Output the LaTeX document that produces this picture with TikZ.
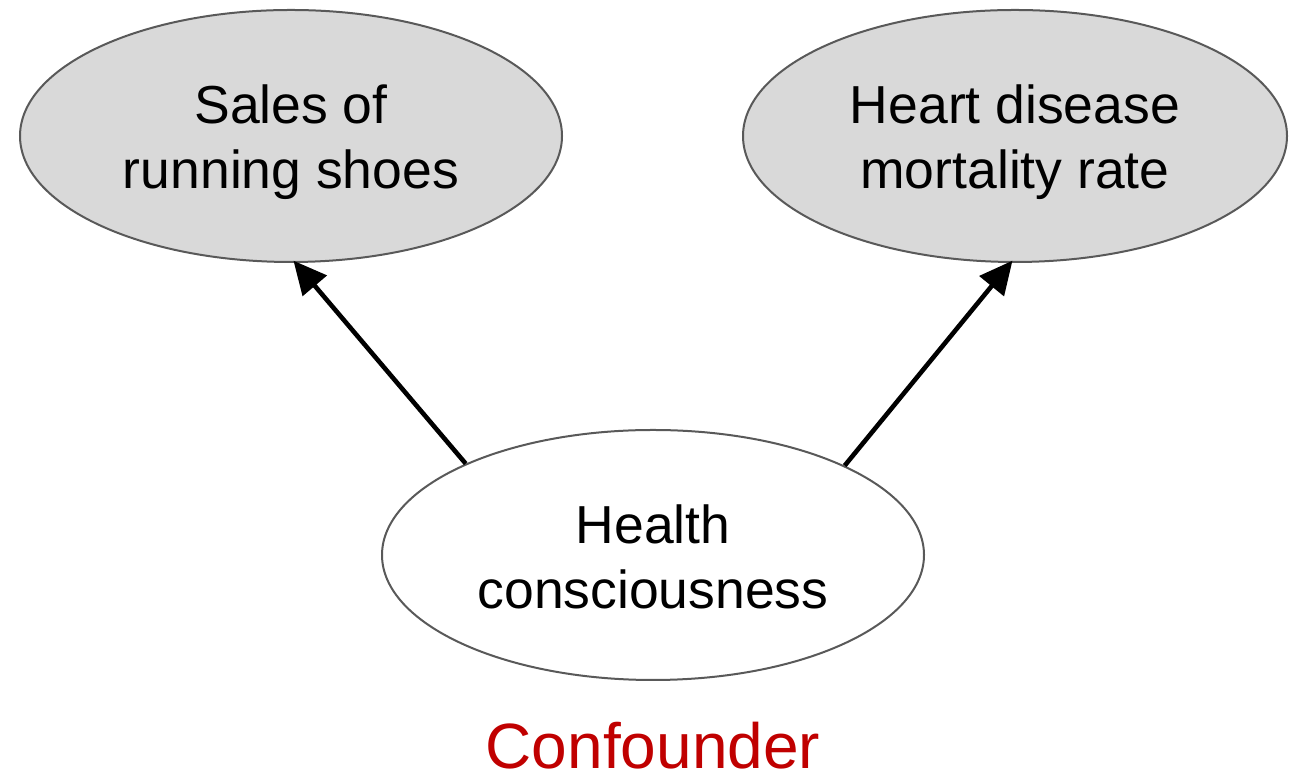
\documentclass[tikz,border=0pt]{standalone}
\usepackage{fontspec}
\setmainfont{Liberation Sans}
\usetikzlibrary{shapes.geometric,arrows.meta}
\definecolor{nodegray}{HTML}{D9D9D9}
\definecolor{edgegray}{HTML}{595959}
\definecolor{confred}{HTML}{C00000}
\begin{document}
\begin{tikzpicture}[x=1pt,y=1pt,
  oval/.style={ellipse, draw=edgegray, line width=2pt, inner sep=0pt,
    align=center, font=\fontsize{53.5}{65}\selectfont},
  arr/.style={line width=4.6pt, shorten >=-3pt,
    -{Triangle[length=33pt,width=31pt]}}]
  \useasboundingbox (0,0) rectangle (1295,775);
  % observed variables
  \node[oval, fill=nodegray, minimum width=542pt, minimum height=252pt]
    (sales) at (291,639) {};
  \node[oval, fill=nodegray, minimum width=544pt, minimum height=252pt]
    (heart) at (1015,639) {};
  \node[oval, draw=none, anchor=center] (salestext) at (291,633)
    {Sales of\\running shoes};
  \node[oval, draw=none, anchor=center] (hearttext) at (1015,633)
    {Heart disease\\mortality rate};
  % common cause
  \node[oval, fill=white, minimum width=542pt, minimum height=250pt]
    (health) at (653,220) {};
  \node[oval, draw=none] (healthtext) at (653,218) {Health\\consciousness};
  \node[font=\fontsize{64}{76}\selectfont, text=confred, anchor=base]
    (conf) at (653,6) {Confounder};
  % causal arrows
  \draw[arr] (health.154.9) -- (sales.272.2);
  \draw[arr] (health.25) -- (heart.268.7);
\end{tikzpicture}
\end{document}
